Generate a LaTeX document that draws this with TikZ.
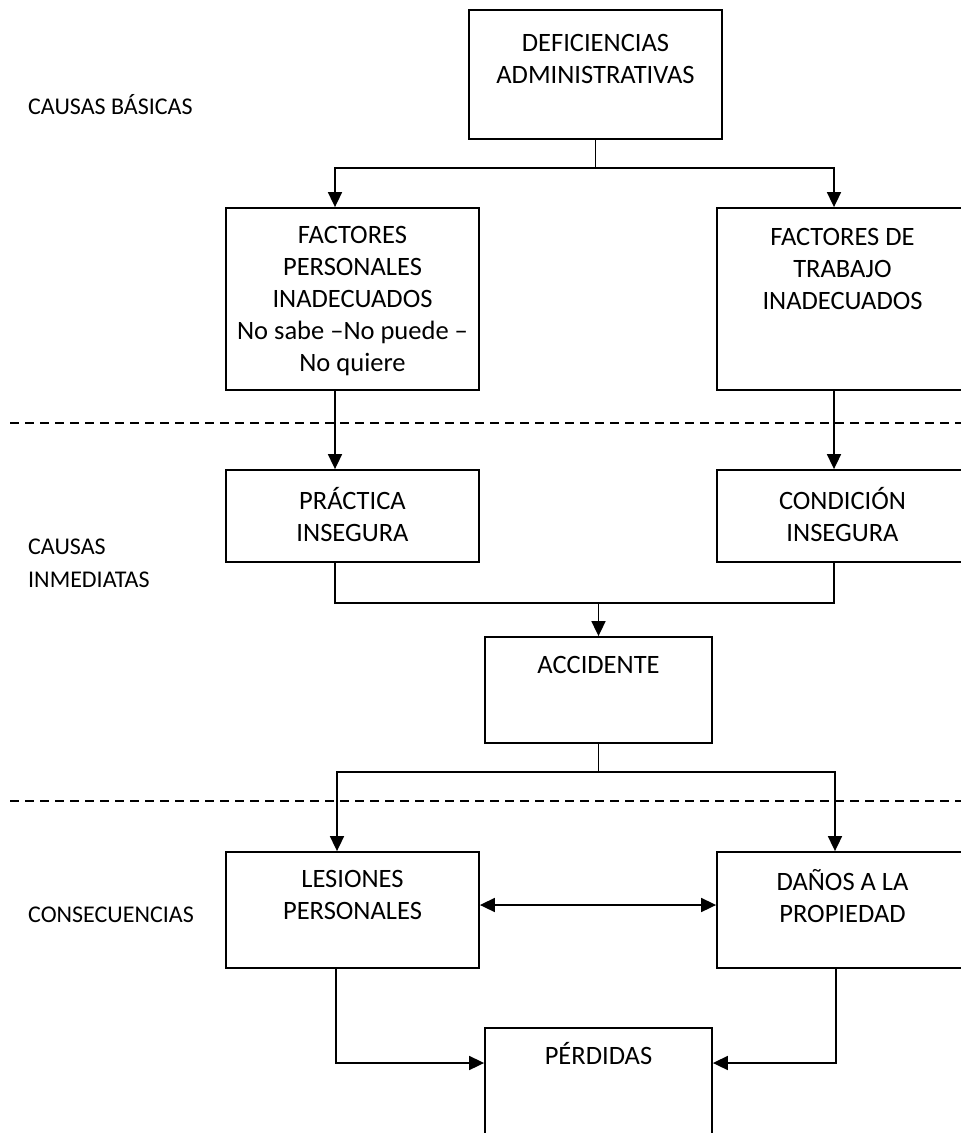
\documentclass[tikz,border=0pt]{standalone}
\usepackage{fontspec}
\setmainfont{Carlito}
\usepackage{tikz}
\usetikzlibrary{arrows.meta}
\usetikzlibrary{positioning}

\begin{document}
\begin{tikzpicture}[x=1pt, y=-1pt,
  caja/.style={draw=black, line width=1.8pt, rectangle, inner sep=0pt},
  texto/.style={inner sep=0pt, anchor=north, align=center, font=\fontsize{26.5}{32}\selectfont, execute at begin node={\rule{0pt}{26pt}}},
  etiqueta/.style={inner sep=0pt, anchor=west, align=left, font=\fontsize{24}{33}\selectfont},
  linea/.style={line width=1.7pt},
  flecha/.style={line width=1.7pt, -{Triangle[length=15pt, width=14pt]}},
  division/.style={line width=1.5pt, dash pattern=on 9pt off 6pt}]
\path[use as bounding box, clip] (0,0) rectangle (961,1133);

% niveles
\node[etiqueta] (basicas) at (28,105) {CAUSAS BÁSICAS};
\node[etiqueta] (inmediatas) at (28,563.5) {CAUSAS\\INMEDIATAS};
\node[etiqueta] (consecuencias) at (28,915) {CONSECUENCIAS};
\draw[division] (10,423) -- (961,423);
\draw[division] (10,801) -- (961,801);

% cajas
\node[caja, minimum width=253pt, minimum height=129pt] (def) at (595.5,74.5) {};
\node[texto, below=25pt of def.north] (deft) {DEFICIENCIAS\\ADMINISTRATIVAS};
\node[caja, minimum width=253pt, minimum height=182pt] (fpers) at (352.5,299) {};
\node[texto, below=18.5pt of fpers.north] (fperst) {FACTORES\\PERSONALES\\INADECUADOS\\No sabe –No puede –\\No quiere};
\node[caja, minimum width=251pt, minimum height=182pt] (ftrab) at (842.5,299) {};
\node[texto, below=20.5pt of ftrab.north] (ftrabt) {FACTORES DE\\TRABAJO\\INADECUADOS};
\node[caja, minimum width=253pt, minimum height=92pt] (pract) at (352.5,516) {};
\node[texto, below=18.5pt of pract.north] (practt) {PRÁCTICA\\INSEGURA};
\node[caja, minimum width=251pt, minimum height=92pt] (cond) at (842.5,516) {};
\node[texto, below=18.5pt of cond.north] (condt) {CONDICIÓN\\INSEGURA};
\node[caja, minimum width=227pt, minimum height=106pt] (acc) at (598.5,690) {};
\node[texto, below=11.5pt of acc.north] (acct) {ACCIDENTE};
\node[caja, minimum width=253pt, minimum height=116pt] (les) at (352.5,910) {};
\node[texto, below=18.5pt of les.north] (lest) {LESIONES\\PERSONALES};
\node[caja, minimum width=251pt, minimum height=116pt] (danos) at (842.5,910) {};
\node[texto, below=18.5pt of danos.north] (danost) {DAÑOS A LA\\PROPIEDAD};
\node[caja, minimum width=227pt, minimum height=122pt] (perd) at (598.5,1089) {};
\node[texto, below=11.5pt of perd.north] (perdt) {PÉRDIDAS};

% conexiones
\draw[flecha] (def.south) -- ++(0,28) -| ([xshift=-17.5pt]fpers.north);
\draw[flecha] (def.south) -- ++(0,28) -| ([xshift=-8.5pt]ftrab.north);
\draw[flecha] ([xshift=-17.5pt]fpers.south) -- ([xshift=-17.5pt]pract.north);
\draw[flecha] ([xshift=-8.5pt]ftrab.south) -- ([xshift=-8.5pt]cond.north);
\draw[linea] ([xshift=-17.5pt]pract.south) -- ++(0,40) -| ([xshift=-8.5pt]cond.south);
\draw[flecha] (acc.north |- pract.south) ++(0,40) -- (acc.north);
\draw[flecha] (acc.south) -- ++(0,28) -| ([xshift=-15.5pt]les.north);
\draw[flecha] (acc.south) -- ++(0,28) -| ([xshift=-7.5pt]danos.north);
\draw[linea, {Triangle[length=15pt, width=14pt]}-{Triangle[length=15pt, width=14pt]}] ([yshift=5pt]les.east) -- ([yshift=5pt]danos.west);
\draw[flecha] ([xshift=-16.5pt]les.south) |- ([yshift=26pt]perd.west);
\draw[flecha] ([xshift=-6.5pt]danos.south) |- ([yshift=26pt]perd.east);
\end{tikzpicture}
\end{document}
